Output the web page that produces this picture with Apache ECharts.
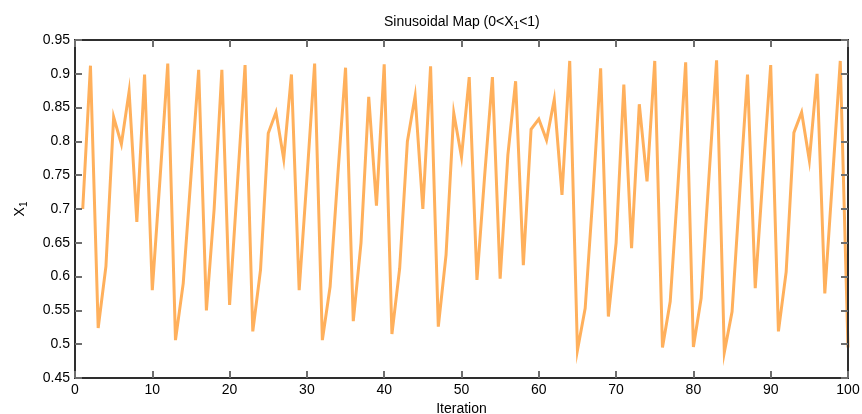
<!DOCTYPE html>
<html>
<head>
<meta charset="utf-8">
<script src="https://cdn.jsdelivr.net/npm/echarts@6/dist/echarts.min.js"></script>
<style>
html,body{margin:0;padding:0;background:#fff;}
#chart{width:862px;height:414px;}
</style>
</head>
<body>
<div id="chart"></div>
<script>
const iterations = [1,2,3,4,5,6,7,8,9,10,11,12,13,14,15,16,17,18,19,20,
  21,22,23,24,25,26,27,28,29,30,31,32,33,34,35,36,37,38,39,40,
  41,42,43,44,45,46,47,48,49,50,51,52,53,54,55,56,57,58,59,60,
  61,62,63,64,65,66,67,68,69,70,71,72,73,74,75,76,77,78,79,80,
  81,82,83,84,85,86,87,88,89,90,91,92,93,94,95,96,97,98,99,100];
const x1Values = [
  0.700,0.912,0.524,0.615,0.836,0.796,0.874,0.681,0.899,0.580,
  0.745,0.915,0.506,0.590,0.748,0.906,0.550,0.700,0.906,0.558,
  0.735,0.913,0.519,0.610,0.812,0.843,0.774,0.899,0.580,0.745,
  0.915,0.506,0.585,0.750,0.909,0.534,0.650,0.866,0.705,0.914,
  0.515,0.612,0.800,0.867,0.700,0.911,0.526,0.632,0.842,0.777,
  0.895,0.595,0.750,0.895,0.597,0.780,0.889,0.617,0.818,0.833,
  0.802,0.862,0.721,0.919,0.491,0.553,0.720,0.908,0.541,0.650,
  0.884,0.642,0.855,0.741,0.919,0.495,0.563,0.735,0.917,0.496,
  0.568,0.745,0.920,0.488,0.548,0.725,0.899,0.583,0.750,0.913,
  0.519,0.607,0.813,0.843,0.772,0.900,0.575,0.745,0.919,0.495];
const xTicks = [0,10,20,30,40,50,60,70,80,90,100];
const yTicks = [0.45,0.5,0.55,0.6,0.65,0.7,0.75,0.8,0.85,0.9,0.95];

const FONT = '"Liberation Sans", Arial, sans-serif';
const chart = echarts.init(document.getElementById('chart'), null, {renderer:'canvas'});
const lineData = iterations.map((it, i) => [it, x1Values[i]]);

const frameLine = () => ({show:true, onZero:false, lineStyle:{color:'#2e2e2e', width:2, opacity:1, type:'solid'}});
const tickStyle = () => ({show:true, inside:true, length:7, lineStyle:{color:'#6e6e6e', width:2, opacity:1, type:'solid'}});

chart.setOption({
  animation:false,
  backgroundColor:'#ffffff',
  title:{
    text:'{a|Sinusoidal Map (0<X}{s|1}{a|<1)}',
    left:379, top:8,
    textStyle:{
      rich:{
        a:{fontFamily:FONT, fontSize:14, color:'#000', fontWeight:'normal', lineHeight:18},
        s:{fontFamily:FONT, fontSize:10, color:'#000', fontWeight:'normal', lineHeight:18, padding:[9,0,0,0]}
      }
    }
  },
  grid:{left:75, right:14, top:40, bottom:36, containLabel:false, outerBoundsMode:'none',
        show:true, borderColor:'#2e2e2e', borderWidth:2, backgroundColor:'rgba(0,0,0,0)', z:10},
  xAxis:[{
    type:'value', min:xTicks[0], max:xTicks[xTicks.length-1], interval:10, position:'bottom',
    axisLine:frameLine(), axisTick:tickStyle(), z:10,
    axisLabel:{color:'#000', fontSize:14, fontFamily:FONT, margin:5},
    splitLine:{show:false},
    name:'Iteration', nameLocation:'middle', nameGap:21,
    nameTextStyle:{color:'#000', fontSize:14, fontFamily:FONT}
  },{
    type:'value', min:xTicks[0], max:xTicks[xTicks.length-1], interval:10, position:'top',
    axisLine:frameLine(), axisTick:tickStyle(), axisLabel:{show:false}, splitLine:{show:false}, z:10
  }],
  yAxis:[{
    type:'value', min:yTicks[0], max:yTicks[yTicks.length-1], interval:0.05, position:'left',
    axisLine:frameLine(), axisTick:tickStyle(), z:10,
    axisLabel:{color:'#000', fontSize:14, fontFamily:FONT, margin:5,
      formatter:v => String(parseFloat(v.toFixed(2)))},
    splitLine:{show:false},
    name:'{a|X}{s|1}', nameLocation:'middle', nameGap:46, nameRotate:90,
    nameTextStyle:{
      rich:{
        a:{fontFamily:FONT, fontSize:14, color:'#000', lineHeight:18},
        s:{fontFamily:FONT, fontSize:10, color:'#000', lineHeight:18, padding:[9,0,0,0]}
      }
    }
  },{
    type:'value', min:yTicks[0], max:yTicks[yTicks.length-1], interval:0.05, position:'right',
    axisLine:frameLine(), axisTick:tickStyle(), axisLabel:{show:false}, splitLine:{show:false}, z:10
  }],
  series:[{
    type:'line', data:lineData, showSymbol:false, clip:true, z:2,
    lineStyle:{color:'#ffb05c', width:3, join:'miter'},
    itemStyle:{color:'#ffb05c'}
  }]
});
</script>
</body>
</html>
